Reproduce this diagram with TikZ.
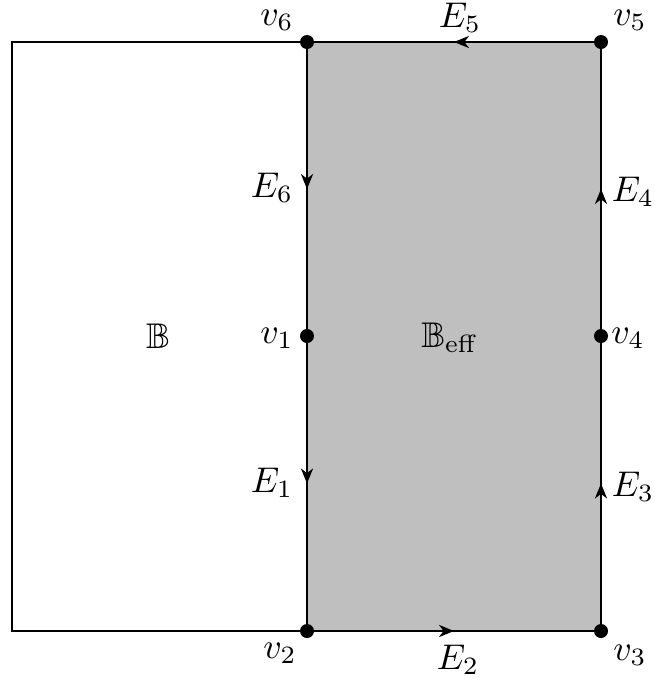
\documentclass[tikz,border=0pt]{standalone}
\usepackage{amssymb}
\usetikzlibrary{arrows.meta,decorations.markings}
\begin{document}
\begin{tikzpicture}[x=0.28pt,y=-0.28pt,line width=0.5pt,
  vdot/.style={circle,fill=black,inner sep=0pt,minimum size=14*0.28pt},
  midarrow/.style={postaction={decorate},decoration={markings,mark=at position 0.5 with {\arrow{Stealth[length=4.2pt,width=3.4pt,inset=1.3pt]}}}},
  lbl/.style={inner sep=0pt}]
\useasboundingbox (0,0) rectangle (654,679);
\coordinate (tl) at (12,42);
\coordinate (bl) at (12,631);
\fill[black!25] (307,42) rectangle (601,631);
\node[vdot] (v6) at (307,42) {};
\node[vdot] (v1) at (307,336) {};
\node[vdot] (v2) at (307,631) {};
\node[vdot] (v3) at (601,631) {};
\node[vdot] (v4) at (601,336) {};
\node[vdot] (v5) at (601,42) {};
\draw (v6.center) -- (tl) -- (bl) -- (v2.center);
\draw[midarrow] (v6.center) -- (v1.center);
\draw[midarrow] (v1.center) -- (v2.center);
\draw[midarrow] (v2.center) -- (v3.center);
\draw[midarrow] (v3.center) -- (v4.center);
\draw[midarrow] (v4.center) -- (v5.center);
\draw[midarrow] (v5.center) -- (v6.center);
\node[lbl] at (277,20) {$v_6$};
\node[lbl] at (630,20) {$v_5$};
\node[lbl] at (460,18) {$E_5$};
\node[lbl] at (272,188) {$E_6$};
\node[lbl] at (633,192) {$E_4$};
\node[lbl] at (277,338) {$v_1$};
\node[lbl] at (450,338) {$\mathbb{B}_{\mathrm{eff}}$};
\node[lbl] at (158,336) {$\mathbb{B}$};
\node[lbl] at (628,338) {$v_4$};
\node[lbl] at (272,483) {$E_1$};
\node[lbl] at (633,487) {$E_3$};
\node[lbl] at (280,653) {$v_2$};
\node[lbl] at (458,660) {$E_2$};
\node[lbl] at (630,655) {$v_3$};
\end{tikzpicture}
\end{document}
